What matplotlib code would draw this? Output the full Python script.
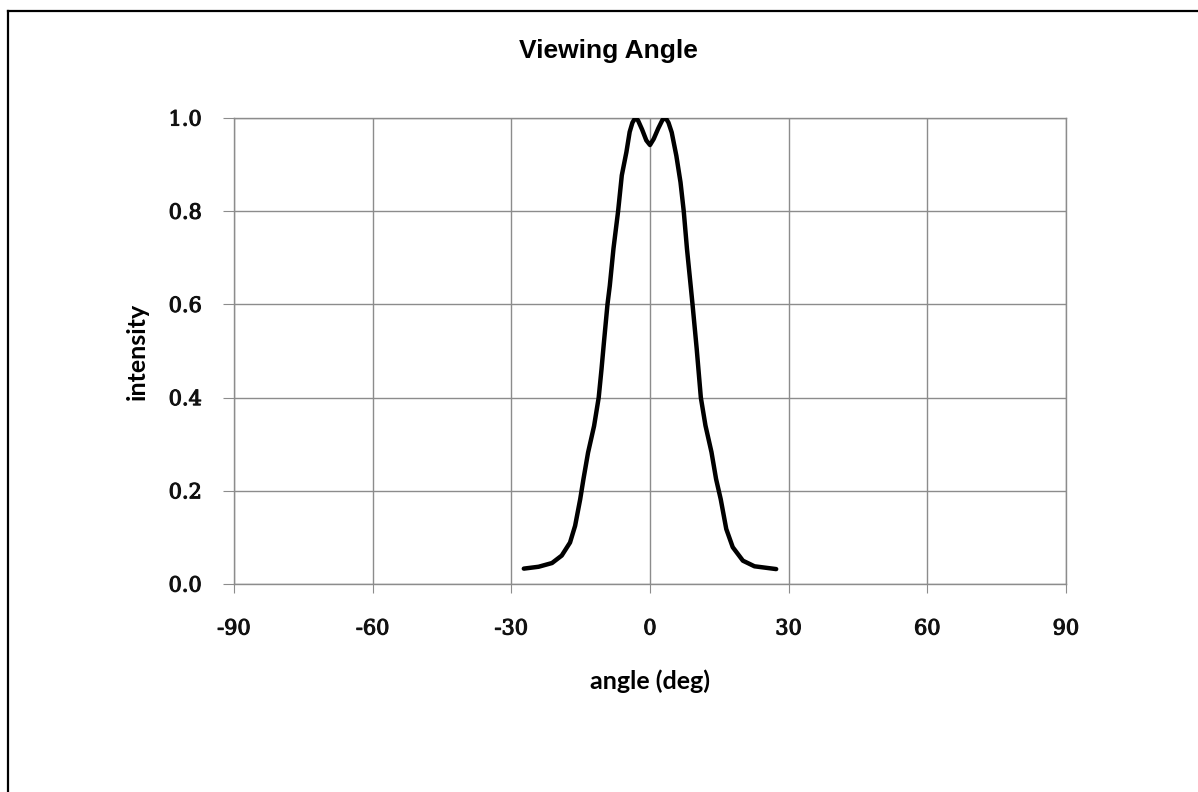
import numpy as np
import matplotlib
matplotlib.use('Agg')
import matplotlib.pyplot as plt
from matplotlib.lines import Line2D
import matplotlib.patheffects as pe

# values
angle = [-27.3, -24.1, -21.2, -19.1, -17.3, -16.2, -15.1, -14.4, -13.4, -12.1,
         -11.1, -10.5, -10.0, -9.2, -8.7, -7.9, -6.9, -6.1, -5.1, -4.4,
         -3.8, -3.2, -2.6, -1.7, -0.8, 0.0,
         0.8, 1.8, 2.7, 3.4, 4.0, 4.7, 5.7, 6.6, 7.3, 8.0,
         8.8, 9.2, 10.1, 11.0, 12.0, 13.3, 14.3, 15.3, 16.5, 17.9,
         20.1, 22.6, 27.3]
intensity = [0.033, 0.037, 0.045, 0.061, 0.089, 0.125, 0.182, 0.225, 0.282, 0.339,
             0.400, 0.460, 0.515, 0.600, 0.640, 0.720, 0.800, 0.877, 0.927, 0.970,
             0.990, 1.000, 0.995, 0.975, 0.952, 0.942,
             0.955, 0.978, 0.996, 1.000, 0.990, 0.969, 0.919, 0.862, 0.800, 0.719,
             0.640, 0.600, 0.505, 0.400, 0.340, 0.283, 0.225, 0.182, 0.118, 0.079,
             0.050, 0.038, 0.032]
x_ticks = [-90, -60, -30, 0, 30, 60, 90]
y_ticks = [0.0, 0.2, 0.4, 0.6, 0.8, 1.0]

grid_col = '#8c8c8c'
W, H = 1198, 792

fig = plt.figure(figsize=(W / 100, H / 100), dpi=100)
ax = fig.add_axes([234 / W, 1 - 584 / H, (1066 - 234) / W, (584 - 118) / H])

ax.plot(angle, intensity, color='black', linewidth=3.2,
        solid_joinstyle='round', solid_capstyle='round', zorder=3)

ax.set_xlim(-90, 90)
ax.set_ylim(0, 1.0)
ax.set_xticks(x_ticks)
ax.set_yticks(y_ticks)
ax.set_xticklabels([str(t) for t in x_ticks])
ax.set_yticklabels([f'{t:.1f}' for t in y_ticks])
ax.grid(True, color=grid_col, linewidth=1.0)
ax.set_axisbelow(True)
for s in ax.spines.values():
    s.set_color(grid_col)
    s.set_linewidth(1.0)
ax.tick_params(axis='x', direction='out', length=6.5, color=grid_col, pad=19,
               labelsize=15)
ax.tick_params(axis='y', direction='out', length=8, color=grid_col, pad=15,
               labelsize=15)
# medium weight serif labels (regular face, slightly thickened)
for lab in ax.get_xticklabels() + ax.get_yticklabels():
    lab.set_family('DejaVu Serif')
    lab.set_color('#111111')
    lab.set_path_effects([pe.withStroke(linewidth=0.8, foreground='#111111')])

ax.set_xlabel('angle (deg)', family='Lato', fontweight='bold', fontsize=18, labelpad=22)
ax.set_ylabel('intensity', family='Lato', fontweight='bold', fontsize=18, labelpad=14)
fig.text(608 / W, 1 - 51 / H, 'Viewing Angle', ha='center', va='center',
         family='Liberation Sans', fontweight='bold', fontsize=19)

# outer chart frame: only the left and top edges are inside the picture
fx, fy = 8.3 / W, 1 - 11 / H
fig.add_artist(Line2D([fx, fx], [-0.1, fy], transform=fig.transFigure,
                      color='black', linewidth=1.6))
fig.add_artist(Line2D([fx, 1.1], [fy, fy], transform=fig.transFigure,
                      color='black', linewidth=1.6))

fig.savefig('out.png', dpi=100)
